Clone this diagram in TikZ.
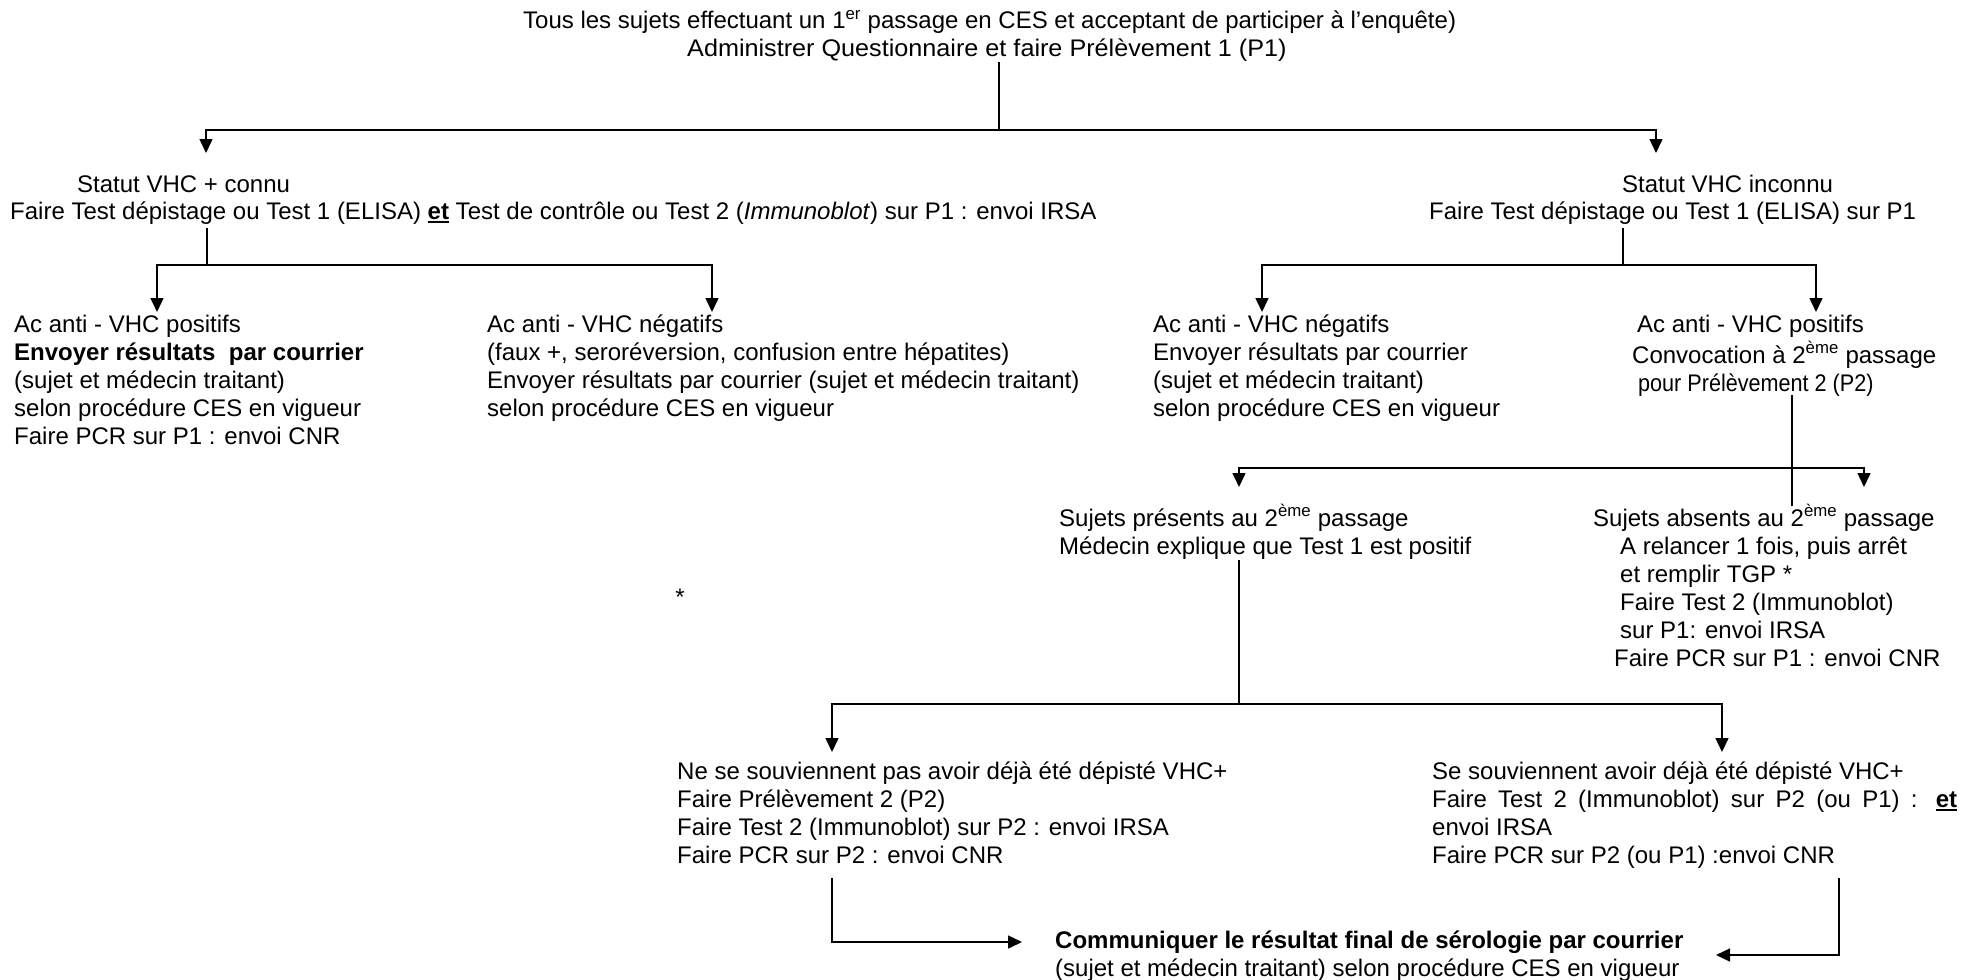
\documentclass[tikz,border=0pt]{standalone}
\usepackage{fontspec}
\setmainfont{Liberation Sans}
\usetikzlibrary{arrows.meta}
\newcommand{\ulbf}[1]{\setbox0\hbox{\textbf{#1}}\rlap{\rule[-3.5pt]{\wd0}{1.8pt}}\box0\relax}
\begin{document}
\begin{tikzpicture}[x=1pt,y=-1pt,
  txt/.style={anchor=north west, inner sep=0pt, align=left, font=\fontsize{24}{28}\selectfont},
  ln/.style={line width=1.5pt},
  arr/.style={line width=1.5pt, -{Triangle[length=14pt,width=13pt]}}]
\fill[white] (0,0) rectangle (1982,980);
\useasboundingbox (0,0) rectangle (1982,980);

% texts
\node[txt] (title1) at (523,8.4) {\strut Tous les sujets effectuant un 1\textsuperscript{er} passage en CES et acceptant de participer à l’enquête)};
\node[txt] (title2) at (687,36.4) {\strut\scalebox{1.05}[1]{Administrer Questionnaire et faire Prélèvement 1 (P1)}};

\node[txt] (statL1) at (77,172.4) {\strut Statut VHC + connu};
\node[txt] (statL2) at (10,199.4) {\strut Faire Test dépistage ou Test 1 (ELISA) \ulbf{et} Test de contrôle ou Test 2 (\textit{Immunoblot}) sur P1 : envoi IRSA};
\node[txt] (statR1) at (1622,172.4) {\strut Statut VHC inconnu};
\node[txt] (statR2) at (1429,199.4) {\strut Faire Test dépistage ou Test 1 (ELISA) sur P1};

\node[txt] (posL) at (14,312.4) {\strut Ac anti - VHC positifs\\
\textbf{Envoyer résultats\ \ par courrier}\\
(sujet et médecin traitant)\\
selon procédure CES en vigueur\\
Faire PCR sur P1 : envoi CNR};
\node[txt] (negL) at (487,312.4) {\strut Ac anti - VHC négatifs\\
(faux +, seroréversion, confusion entre hépatites)\\
Envoyer résultats par courrier (sujet et médecin traitant)\\
selon procédure CES en vigueur};
\node[txt] (negR) at (1153,312.4) {\strut Ac anti - VHC négatifs\\
Envoyer résultats par courrier\\
(sujet et médecin traitant)\\
selon procédure CES en vigueur};
\node[txt] (posR) at (1632,312.4) {\strut\hspace*{5pt}Ac anti - VHC positifs\\
Convocation à 2\textsuperscript{ème} passage\\
\hspace*{6pt}\scalebox{0.9}[1]{pour Prélèvement 2 (P2)}};

\node[txt] (pres) at (1059,504.4) {\strut Sujets présents au 2\textsuperscript{ème} passage\\
Médecin explique que Test 1 est positif};
\node[txt] (abs) at (1593,504.4) {\strut Sujets absents au 2\textsuperscript{ème} passage\\
\hspace*{27pt}A relancer 1 fois, puis arrêt\\
\hspace*{27pt}et remplir TGP *\\
\hspace*{27pt}Faire Test 2 (Immunoblot)\\
\hspace*{27pt}sur P1: envoi IRSA\\
\hspace*{21pt}Faire PCR sur P1 : envoi CNR};
\node[inner sep=0pt, font=\fontsize{24}{28}\selectfont] (star) at (680,597) {*};

\node[txt] (nsv) at (677,759.4) {\strut Ne se souviennent pas avoir déjà été dépisté VHC+\\
Faire Prélèvement 2 (P2)\\
Faire Test 2 (Immunoblot) sur P2 : envoi IRSA\\
Faire PCR sur P2 : envoi CNR};
\node[txt] (sv) at (1432,759.4) {\strut Se souviennent avoir déjà été dépisté VHC+\\
\makebox[525pt][s]{Faire Test 2 (Immunoblot) sur P2 (ou P1) : \ulbf{et}}\\
envoi IRSA\\
Faire PCR sur P2 (ou P1) :envoi CNR};

\node[txt] (final) at (1055,928.4) {\strut\textbf{Communiquer le résultat final de sérologie par courrier}\\
(sujet et médecin traitant) selon procédure CES en vigueur};

% junction coordinates
\coordinate (t0) at (999,62);   \coordinate (t1) at (999,130);
\coordinate (tLa) at (206,153); \coordinate (tRa) at (1656,153);
\coordinate (l0) at (207,228);  \coordinate (l1) at (207,265);
\coordinate (lLa) at (157,312); \coordinate (lRa) at (712,312);
\coordinate (r0) at (1623,228); \coordinate (r1) at (1623,265);
\coordinate (rLa) at (1262,312); \coordinate (rRa) at (1816,312);
\coordinate (p0) at (1792,395); \coordinate (p1) at (1792,506);
\coordinate (q1) at (1792,468);
\coordinate (qLa) at (1239,487); \coordinate (qRa) at (1864,487);
\coordinate (s0) at (1239,560); \coordinate (s1) at (1239,704);
\coordinate (sLa) at (832,752); \coordinate (sRa) at (1722,752);
\coordinate (b0) at (832,878);  \coordinate (b1) at (832,942);
\coordinate (bA) at (1022,942);
\coordinate (c0) at (1839,878); \coordinate (c1) at (1839,955);
\coordinate (cA) at (1716,955);

% connectors
\draw[ln] (t0) -- (t1);
\draw[arr] (t1) -| (tLa);
\draw[arr] (t1) -| (tRa);
\draw[ln] (l0) -- (l1);
\draw[arr] (l1) -| (lLa);
\draw[arr] (l1) -| (lRa);
\draw[ln] (r0) -- (r1);
\draw[arr] (r1) -| (rLa);
\draw[arr] (r1) -| (rRa);
\draw[ln] (p0) -- (p1);
\draw[arr] (q1) -| (qLa);
\draw[arr] (q1) -| (qRa);
\draw[ln] (s0) -- (s1);
\draw[arr] (s1) -| (sLa);
\draw[arr] (s1) -| (sRa);
\draw[arr] (b0) -- (b1) -- (bA);
\draw[arr] (c0) -- (c1) -- (cA);
\end{tikzpicture}
\end{document}
